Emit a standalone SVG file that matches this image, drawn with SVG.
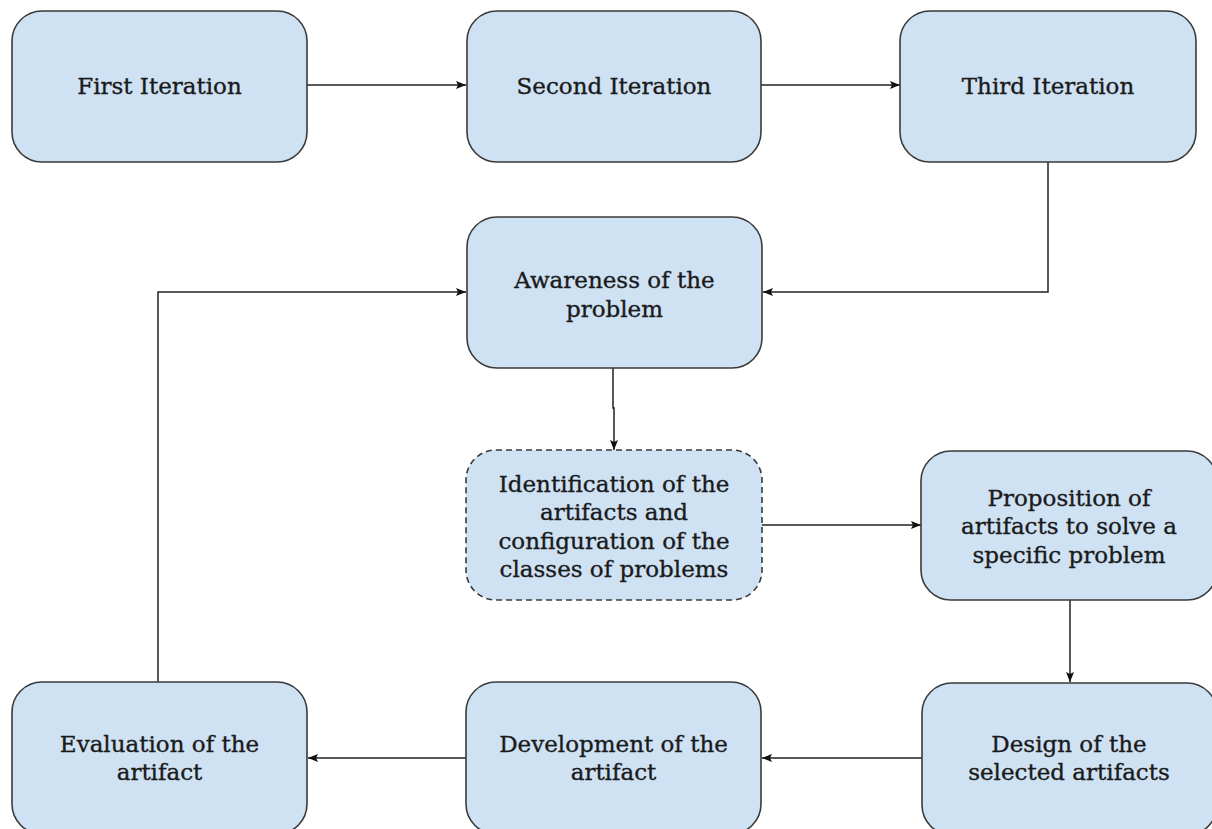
<svg xmlns="http://www.w3.org/2000/svg" width="1212" height="829" viewBox="0 0 1212 829">
  <style>
    .box { fill: #cfe2f3; stroke: #3a3a3a; stroke-width: 1.6; }
    .dashed { stroke-dasharray: 6 4; }
    .label { font-family: "DejaVu Serif", "Liberation Serif", serif; font-size: 23px; fill: #1a1a1a; stroke: #1a1a1a; stroke-width: 0.35; text-anchor: middle; }
    .link { fill: none; stroke: #222; stroke-width: 1.5; }
  </style>
  <defs>
    <marker id="arrow" viewBox="0 0 10 8" refX="10" refY="4" markerWidth="10" markerHeight="8" markerUnits="userSpaceOnUse" orient="auto">
      <path d="M0,0 L10,4 L0,8 L2,4 Z" fill="#111"/>
    </marker>
  </defs>
  <rect width="1212" height="829" fill="#ffffff"/>

  <g id="connectors">
    <path class="link" d="M307,85 H466" marker-end="url(#arrow)"/>
    <path class="link" d="M761,85 H900" marker-end="url(#arrow)"/>
    <path class="link" d="M1048,162 V292 H763" marker-end="url(#arrow)"/>
    <path class="link" d="M613,368 V408 H614 V450" marker-end="url(#arrow)"/>
    <path class="link" d="M762,525 H921" marker-end="url(#arrow)"/>
    <path class="link" d="M1070,600 V682" marker-end="url(#arrow)"/>
    <path class="link" d="M922,758 H762" marker-end="url(#arrow)"/>
    <path class="link" d="M466,758 H308" marker-end="url(#arrow)"/>
    <path class="link" d="M158,682 V292 H466" marker-end="url(#arrow)"/>
  </g>

  <g id="first-iteration">
    <rect class="box" x="12" y="11" width="295" height="151" rx="30"/>
    <text class="label" x="159.5" y="94">First Iteration</text>
  </g>
  <g id="second-iteration">
    <rect class="box" x="467" y="11" width="294" height="151" rx="30"/>
    <text class="label" x="614" y="94">Second Iteration</text>
  </g>
  <g id="third-iteration">
    <rect class="box" x="900" y="11" width="296" height="151" rx="30"/>
    <text class="label" x="1048" y="94">Third Iteration</text>
  </g>
  <g id="awareness">
    <rect class="box" x="467" y="217" width="295" height="151" rx="30"/>
    <text class="label" x="614.5" y="287.5">Awareness of the</text>
    <text class="label" x="614.5" y="316.5">problem</text>
  </g>
  <g id="identification">
    <rect class="box dashed" x="466" y="450" width="296" height="150" rx="30"/>
    <text class="label" x="614" y="491.5">Identification of the</text>
    <text class="label" x="614" y="520">artifacts and</text>
    <text class="label" x="614" y="548.5">configuration of the</text>
    <text class="label" x="614" y="577">classes of problems</text>
  </g>
  <g id="proposition">
    <rect class="box" x="921" y="451" width="296" height="149" rx="30"/>
    <text class="label" x="1069" y="505.5">Proposition of</text>
    <text class="label" x="1069" y="534">artifacts to solve a</text>
    <text class="label" x="1069" y="562.5">specific problem</text>
  </g>
  <g id="design">
    <rect class="box" x="922" y="683" width="295" height="152" rx="30"/>
    <text class="label" x="1069" y="751.5">Design of the</text>
    <text class="label" x="1069" y="780">selected artifacts</text>
  </g>
  <g id="development">
    <rect class="box" x="466" y="682" width="295" height="152" rx="30"/>
    <text class="label" x="613.5" y="751.5">Development of the</text>
    <text class="label" x="613.5" y="780">artifact</text>
  </g>
  <g id="evaluation">
    <rect class="box" x="12" y="682" width="295" height="152" rx="30"/>
    <text class="label" x="159.5" y="751.5">Evaluation of the</text>
    <text class="label" x="159.5" y="780">artifact</text>
  </g>
</svg>
